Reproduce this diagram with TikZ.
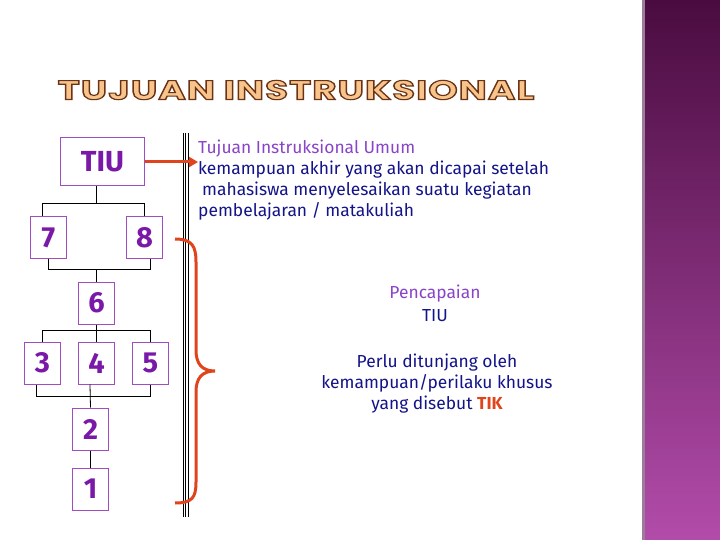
\documentclass[tikz,border=0pt]{standalone}
\usepackage{fontspec}
\setmainfont{Fira Sans}
\newfontfamily\titlefont[LetterSpace=3]{Poppins}
\usetikzlibrary{arrows.meta}

\definecolor{boxpurple}{HTML}{A24CC2}
\definecolor{labelpurple}{HTML}{7A18A8}
\definecolor{headpurple}{HTML}{8A44C8}
\definecolor{textnavy}{HTML}{141488}
\definecolor{bracered}{HTML}{E0441C}
\definecolor{titlefill}{HTML}{F7C48C}
\definecolor{bandtop}{HTML}{4A0C40}
\definecolor{bandbot}{HTML}{B24CAA}
\definecolor{bandedge}{HTML}{9C7C9A}

% outlined letters: fill and stroke (text render mode 2)
\newcommand\outlined[1]{\special{pdf:literal direct 2 Tr 1.1 w 0.42 0.2 0.08 RG}#1\special{pdf:literal direct 0 Tr}}

\tikzset{
  numbox/.style={draw=boxpurple, line width=1pt, minimum width=36pt, minimum height=42pt,
    inner sep=0pt, text=labelpurple, font=\bfseries\fontsize{29}{29}\selectfont},
  link/.style={draw=black, line width=0.8pt},
  redline/.style={draw=bracered, line width=3pt},
  titletext/.style={font=\titlefont\bfseries\fontsize{27}{27}\selectfont, xscale=1.38, inner sep=0pt},
  bodytext/.style={text=textnavy, font=\fontsize{17.4}{21}\selectfont, inner sep=0pt}
}

\begin{document}
\begin{tikzpicture}[x=1pt,y=-1pt]
	\useasboundingbox (0,0) rectangle (720,540);
	\fill[white] (0,0) rectangle (720,540);

	%% side band
	\shade[top color=bandtop, bottom color=bandbot] (642,0) rectangle (720,540);
	\fill[bandedge] (642,0) rectangle (644.5,540);

	%% title
	\node[titletext, text=titlefill] (title) at (296,90) {\outlined{TUJUAN INSTRUKSIONAL}};

	%% boxes
	\node[numbox, minimum width=84pt, minimum height=48pt] (tiu) at (102.5,162) {TIU};
	\node[numbox, minimum height=41pt] (n7) at (48.5,237.5) {7};
	\node[numbox, minimum height=41pt] (n8) at (144.5,237.5) {8};
	\node[numbox] (n6) at (96.5,303) {6};
	\node[numbox] (n3) at (42.3,363) {3};
	\node[numbox] (n4) at (96.5,363) {4};
	\node[numbox] (n5) at (150.3,363) {5};
	\node[numbox] (n2) at (90.5,429) {2};
	\node[numbox] (n1) at (90.5,489) {1};

	%% tree lines
	\draw[link] ([xshift=-6pt]tiu.south) -- ++(0,18);
	\draw[link] ([xshift=-6pt]n7.north) -- ++(0,-13) -| (n8.north);
	\draw[link] (n7.south) -- ++(0,11) -| ([xshift=6pt]n8.south);
	\draw[link] (n6.north) -- ++(0,-13);
	\draw[link] (n3.north) -- ++(0,-11) -| (n5.north);
	\draw[link] (n6.south) -- (n4.north);
	\draw[link] ([xshift=-6pt]n3.south) -- ++(0,12) -| (n5.south);
	\draw[link] ([xshift=-6.5pt]n4.south) -- (n2.north);
	\draw[link] (n2.south) -- (n1.north);

	%% triple rule
	\foreach \xx in {183.3,185.7,188}
		\draw[black, line width=0.9pt] (\xx,133) -- (\xx,517);

	%% texts
	\node[bodytext, anchor=north west, align=left] (desc) at (198,140)
		{\textcolor{headpurple}{Tujuan Instruksional Umum}\\
		 kemampuan akhir yang akan dicapai setelah\\
		 \hspace*{4pt}mahasiswa menyelesaikan suatu kegiatan\\
		 pembelajaran / matakuliah};
	\node[bodytext, align=center, font=\fontsize{17.4}{23}\selectfont] (capai) at (435,303)
		{\textcolor{headpurple}{Pencapaian}\\TIU};
	\node[bodytext, align=center] (tik) at (437,384)
		{Perlu ditunjang oleh\\kemampuan/perilaku khusus\\yang disebut {\bfseries\color{bracered}TIK}};

	%% arrow and brace
	\draw[redline, -{Triangle[length=9pt,width=10pt]}] (tiu.east) -- (tiu.east -| desc.west);
	\draw[redline] (175,239) .. controls (192,239) and (196,246) .. (196,262) -- (196,350)
		.. controls (196,364) and (202,371) .. (215,371)
		.. controls (202,371) and (196,378) .. (196,392) -- (196,482)
		.. controls (196,498) and (192,503) .. (175,503);

\end{tikzpicture}
\end{document}
